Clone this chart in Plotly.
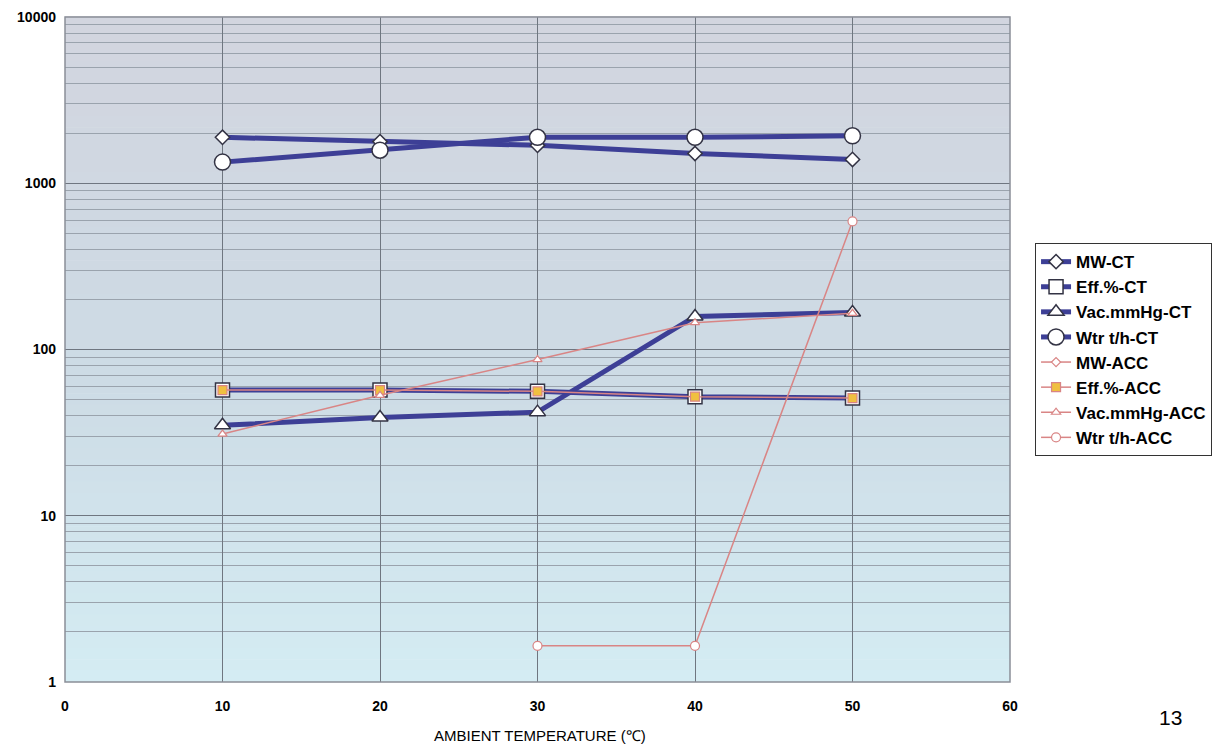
import plotly.graph_objects as go

temps = [10, 20, 30, 40, 50]

mw_ct = [1890, 1780, 1690, 1510, 1390]
eff_ct = [57, 57, 56, 52, 51]
vac_ct = [35, 39, 42, 158, 167]
wtr_ct = [1340, 1580, 1890, 1890, 1930]

mw_acc = [None, None, None, None, None]
eff_acc = [57, 57, 56, 52, 51]
vac_acc = [31, 53, 87, 145, 165]
wtr_acc = [None, None, 1.65, 1.65, 590]

x_ticks = [0, 10, 20, 30, 40, 50, 60]
y_ticks = [1, 10, 100, 1000, 10000]

BLUE = "#3d3f96"
PINK = "#d98585"

fig = go.Figure()

ct_series = [
    ("MW-CT", mw_ct, "diamond", 11),
    ("Eff.%-CT", eff_ct, "square", 14),
    ("Vac.mmHg-CT", vac_ct, "triangle-up", 14),
    ("Wtr t/h-CT", wtr_ct, "circle", 16),
]
for name, ys, sym, sz in ct_series:
    fig.add_trace(go.Scatter(
        x=temps, y=ys, name=name, mode="lines+markers",
        line=dict(color=BLUE, width=5),
        marker=dict(symbol=sym, size=sz, color="white",
                    line=dict(color="#333344", width=1.5)),
    ))

acc_series = [
    ("MW-ACC", mw_acc, "diamond", 7, "white"),
    ("Eff.%-ACC", eff_acc, "square", 9, "#f0c040"),
    ("Vac.mmHg-ACC", vac_acc, "triangle-up", 8, "white"),
    ("Wtr t/h-ACC", wtr_acc, "circle", 9, "white"),
]
for name, ys, sym, sz, fill in acc_series:
    fig.add_trace(go.Scatter(
        x=temps, y=ys, name=name, mode="lines+markers",
        line=dict(color=PINK, width=1.5),
        marker=dict(symbol=sym, size=sz, color=fill,
                    line=dict(color=PINK, width=1.2)),
    ))

# gradient background for the plot area (style only)
top = (210, 213, 223)
mid = (205, 219, 229)
bot = (212, 236, 243)
n = 60
shapes = []
for i in range(n):
    t = i / (n - 1)
    if t < 0.55:
        u = t / 0.55
        c = tuple(round(top[k] + (mid[k] - top[k]) * u) for k in range(3))
    else:
        u = (t - 0.55) / 0.45
        c = tuple(round(mid[k] + (bot[k] - mid[k]) * u) for k in range(3))
    shapes.append(dict(
        type="rect", xref="x domain", yref="y domain",
        x0=0, x1=1, y0=1 - (i + 1) / n, y1=1 - i / n + 0.001,
        fillcolor="rgb(%d,%d,%d)" % c, line=dict(width=0), layer="below",
    ))
shapes.append(dict(type="rect", xref="x domain", yref="y domain",
                   x0=0, x1=1, y0=0, y1=1,
                   line=dict(color="#8a8f98", width=1.5), layer="above"))

fig.update_layout(
    width=1220, height=749,
    margin=dict(l=57, r=218, t=9, b=75),
    paper_bgcolor="white",
    plot_bgcolor="rgba(0,0,0,0)",
    shapes=shapes,
    font=dict(family="Liberation Sans, Arial", size=13, color="black"),
    xaxis=dict(
        range=[0, 60], tickvals=x_ticks, ticktext=["<b>%d</b>" % v for v in x_ticks],
        showgrid=True, gridcolor="#6f7680", gridwidth=1,
        zeroline=False, showline=False, ticks="", automargin=False,
        ticklabelstandoff=14,
        tickfont=dict(size=14, family="Liberation Sans Narrow, Liberation Sans", color="black"),
    ),
    yaxis=dict(
        type="log", range=[0, 4], tickvals=y_ticks, ticktext=["<b>%d</b>" % v for v in y_ticks],
        showgrid=True, gridcolor="#6f7680", gridwidth=1,
        minor=dict(dtick="D1", showgrid=True, gridcolor="#9aa3ad", gridwidth=1, ticks=""),
        zeroline=False, showline=False, ticks="", automargin=False,
        ticklabelstandoff=8,
        tickfont=dict(size=14, family="Liberation Sans", color="black"),
    ),
    legend=dict(
        x=1.0265, y=0.66, xanchor="left", yanchor="top",
        bgcolor="white", bordercolor="#333333", borderwidth=1,
        font=dict(size=17, family="Liberation Sans Narrow, Liberation Sans", color="black", weight="bold"),
        tracegroupgap=0, itemwidth=30,
    ),
    annotations=[
        dict(text="AMBIENT TEMPERATURE (℃)", xref="paper", yref="paper",
             x=0.5026, y=-0.08, xanchor="center", yanchor="middle", showarrow=False,
             font=dict(size=15, family="Liberation Sans Narrow, Liberation Sans")),
        dict(text="13", xref="paper", yref="paper", x=1.170, y=-0.054,
             xanchor="center", yanchor="middle", showarrow=False,
             font=dict(size=21, family="Liberation Sans")),
    ],
)

fig.write_html("out.html")
